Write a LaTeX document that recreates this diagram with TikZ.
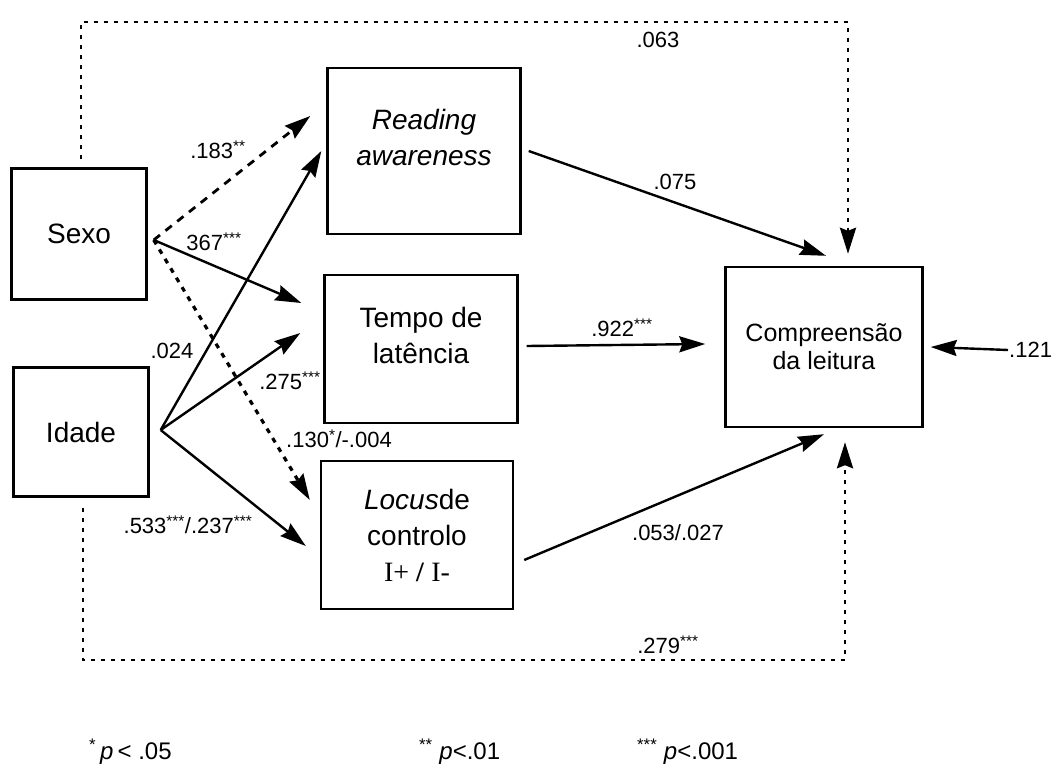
\documentclass[tikz,border=0pt]{standalone}
\usepackage{fontspec}
\setmainfont{Liberation Sans}
\newfontfamily\serifI{Liberation Serif}
\usetikzlibrary{arrows.meta,calc}
\begin{document}
\begin{tikzpicture}[x=1pt,y=-1pt,
  box/.style={draw,line width=2.4pt,inner sep=0pt,align=center,font=\fontsize{28}{36}\selectfont},
  tip/.style={-{Stealth[length=26pt,width=16pt,inset=3pt]}},
  arr/.style={line width=2.4pt,tip},
  dashline/.style={arr,dash pattern=on 8pt off 7pt,line width=2.8pt},
  dotline/.style={arr,dash pattern=on 5pt off 6pt,line width=3.2pt},
  frameline/.style={line width=2.8pt,dash pattern=on 4pt off 6pt},
  lab/.style={font=\fontsize{22}{26}\selectfont,inner sep=1pt},
  leg/.style={font=\fontsize{24}{28}\selectfont,inner sep=1pt}
]
\useasboundingbox (0,0) rectangle (1051,771);

% boxes
\node[box,minimum width=135pt,minimum height=131pt] (sexo) at (79,234) {Sexo};
\node[box,minimum width=135pt,minimum height=129pt] (idade) at (81,432) {Idade};
\node[box,minimum width=193pt,minimum height=166pt] (reading) at (424,151)
  {\textit{Reading}\\\textit{awareness}\\[-8pt]\mbox{}};
\node[box,minimum width=193pt,minimum height=148pt] (tempo) at (421,349)
  {Tempo de\\latência\\[-8pt]\mbox{}};
\node[box,minimum width=192pt,minimum height=148pt] (locus) at (417,535)
  {\textit{Locus}de\\controlo\\{\serifI I+ \textbf{/} I-}};
\node[box,minimum width=197pt,minimum height=160pt,font=\fontsize{25}{28}\selectfont] (comp) at (824,347)
  {Compreensão\\da leitura};

% origins
\coordinate (s0) at ([xshift=6pt,yshift=-6pt]sexo.east);
\coordinate (i0) at ([xshift=11pt,yshift=2pt]idade.east);

% Sexo arrows
\draw[dashline] (s0) -- ([xshift=-16pt,yshift=35pt]reading.west);
\draw[arr] (s0) -- ([xshift=-22pt,yshift=46pt]tempo.west);
\draw[dotline] (s0) -- ([xshift=-10pt,yshift=35pt]locus.west);

% Idade arrows
\draw[arr] (i0) -- ([xshift=-5pt]reading.west);
\draw[arr] (i0) -- ([xshift=-23pt,yshift=16pt]tempo.west);
\draw[arr] (i0) -- ([xshift=-14pt,yshift=-11pt]locus.west);

% to Compreensao
\draw[arr] ([xshift=7pt]reading.east) -- ([xshift=2pt,yshift=10pt]comp.north);
\draw[arr] ([xshift=8pt,yshift=3pt]tempo.east) -- ([xshift=-19pt,yshift=3pt]comp.west);
\draw[arr] ([xshift=10pt,yshift=-25pt]locus.east) -- ([yshift=-6pt]comp.south);

% outer dotted paths
\coordinate (tr) at (848,22);
\draw[frameline,tip] ([xshift=2pt,yshift=8pt]sexo.north) |- (tr) -- ([xshift=24pt,yshift=12pt]comp.north);
\coordinate (br) at (845,660);
\draw[frameline,tip] ([xshift=2pt,yshift=-10pt]idade.south) |- (br) -- ([xshift=21pt,yshift=-14pt]comp.south);

% error term
\node[lab,anchor=west] (n121) at (1008,350) {.121};
\draw[arr] (n121.west) -- ([xshift=7pt]comp.east);

% labels
\node[lab] (l063) at (658,40) {.063};
\node[lab] (l183) at (218,150) {.183\textsuperscript{**}};
\node[lab] (l367) at (214,242) {367\textsuperscript{***}};
\node[lab] (l075) at (675,182) {.075};
\node[lab] (l024) at (172,351) {.024};
\node[lab] (l275) at (290,381) {.275\textsuperscript{***}};
\node[lab] (l130) at (339,439) {.130\textsuperscript{*}/-.004};
\node[lab] (l533) at (188,525) {.533\textsuperscript{***}/.237\textsuperscript{***}};
\node[lab] (l922) at (622,328) {.922\textsuperscript{***}};
\node[lab] (l053) at (678,533) {.053/.027};
\node[lab] (l279) at (668,645) {.279\textsuperscript{***}};

% legend
\node[leg,anchor=west] (g1) at (88,752) {\textsuperscript{*}\,\textit{p}\,< .05};
\node[leg,anchor=west] (g2) at (418,752) {\textsuperscript{**} \textit{p}<.01};
\node[leg,anchor=west] (g3) at (636,752) {\textsuperscript{***} \textit{p}<.001};
\end{tikzpicture}
\end{document}
